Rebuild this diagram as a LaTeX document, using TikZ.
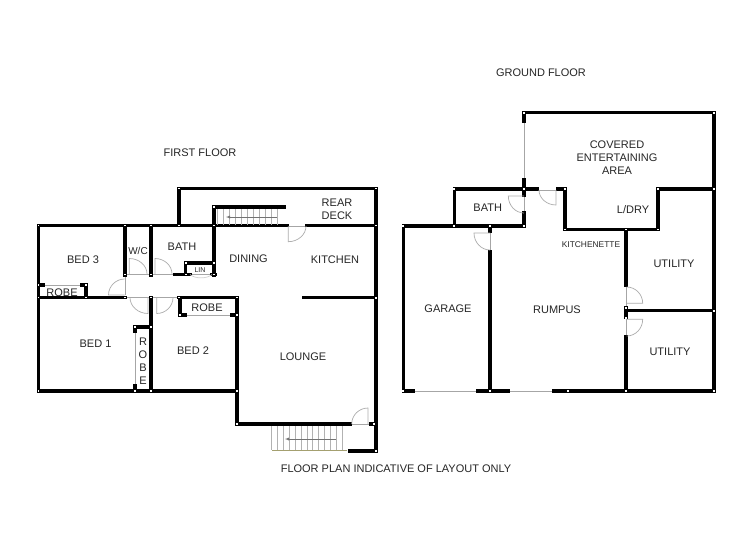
\documentclass[tikz,border=0pt]{standalone}
\usepackage{fontspec}
\setmainfont{Liberation Sans}
\usetikzlibrary{calc}
\tikzset{
    wall/.style={black, line width=3.4pt, line join=miter, line cap=rect},
    glass/.style={black!35, line width=.9pt},
    swing/.style={black!32, line width=.7pt},
    tread/.style={black!30, line width=.5pt},
    joint/.style={fill=white, draw=none},
    label/.style={text=black!85, font=\fontsize{11}{13}\selectfont, align=center, inner sep=0pt, yshift=-.7pt},
    smalllabel/.style={text=black!85, font=\fontsize{8.4}{10}\selectfont, inner sep=0pt, yshift=-.3pt},
}
\newcommand{\doorswing}[3]{
    \draw[swing] (#1) -- (#2) .. controls ($(#2)+.55*(#3)-.55*(#1)$) and ($(#3)+.55*(#2)-.55*(#1)$) .. (#3);
}
\begin{document}
\begin{tikzpicture}[x=1pt, y=-1pt]
    \useasboundingbox (0,0) rectangle (750,536);
    \fill[white] (0,0) rectangle (750,536);

    % first floor
    \draw[glass] (43,285) -- (82,285);
    \draw[glass] (186,315) -- (232,315);
    \draw[glass] (135,332) -- (135,385);
    \draw[glass] (125,274) -- (125,295);
    \draw[glass] (125,274) -- (151,274) (151,274) -- (174,274) (190,274) -- (212,274);
    \draw[glass] (125,297.5) -- (178,297.5);
    \draw[glass] (287,226) -- (307,226);
    \draw[glass] (350,424) -- (371,424);

    \draw[wall] (38.5,391) -- (38.5,225.5) -- (287,225.5);
    \draw[wall] (306.7,225.5) -- (376,225.5);
    \draw[wall] (179,225.5) -- (179,188.5) -- (376,188.5) -- (376,451) -- (350,451);
    \draw[wall] (284,207) -- (214,207) -- (214,275);
    \draw[wall] (304,297.7) -- (376,297.7);
    \draw[wall] (237,297.5) -- (237,424) -- (350,424);
    \draw[wall] (371,424) -- (376,424);
    \draw[wall] (38.5,391) -- (237,391);
    \draw[wall] (38.5,297.5) -- (125,297.5);
    \draw[wall] (125,225.5) -- (125,275);
    \draw[wall] (151,225.5) -- (151,275);
    \draw[wall] (151,297.5) -- (151,391);
    \draw[wall] (179,297.5) -- (237,297.5);
    \draw[wall] (180,297.5) -- (180,315) -- (185,315);
    \draw[wall] (232,315) -- (237,315);
    \draw[wall] (135,331) -- (135,327) -- (151,327);
    \draw[wall] (135,386) -- (135,391);
    \draw[wall] (38.5,285) -- (43,285);
    \draw[wall] (82,285) -- (86,285) -- (86,297.5);
    \draw[wall] (175,274.5) -- (190,274.5);
    \draw[wall] (185.7,274.5) -- (185.7,263) -- (214,263);
    \draw[wall] (212,274.5) -- (215,274.5);

    \doorswing{124.7,295}{108.5,295}{124.7,279}
    \doorswing{129.3,274}{129.3,258.5}{147,274}
    \doorswing{155,274}{155,258.5}{172,274}
    \doorswing{148,297.5}{148,313.5}{130,297.5}
    \doorswing{156.7,297.5}{156.7,313.5}{173,297.5}
    \doorswing{288.3,226}{288.3,241.7}{306,226}
    \doorswing{368,424}{368,408}{351.7,424}
    \draw[swing, black!18] (190,274.5) .. controls (195,279) and (207,279) .. (212,274.5);

    % stairs
    \foreach \tx in {217,223,...,278} {
        \draw[tread] (\tx,209) -- (\tx,225);
    }
    \draw[black!55, thin, -latex] (277,217) -- (226,217);
    \foreach \tx in {271.7,277.55,...,342} {
        \draw[tread] (\tx,426) -- (\tx,450);
    }
    \draw[black!55, thin, -latex] (336,439) -- (285,439);
    \draw[black!30!yellow!45!gray, line width=1.6pt] (272,450.5) -- (347,450.5);

    % ground floor
    \draw[glass] (524,121) -- (524,181);
    \draw[glass] (524,195) -- (524,214);
    \draw[glass] (538,190) -- (558,190);
    \draw[glass] (490,232) -- (490,252);
    \draw[glass] (413,391) -- (478,391);
    \draw[glass] (508,391) -- (554,391);
    \draw[glass] (626,285) -- (626,308);
    \draw[glass] (626,318) -- (626,337);

    \draw[wall] (403.3,391) -- (403.3,226) -- (524,226) -- (524,213);
    \draw[wall] (524,195) -- (524,180);
    \draw[wall] (454.3,226) -- (454.3,189) -- (537,189);
    \draw[wall] (558,189) -- (565,189) -- (565,229.5) -- (658,229.5) -- (658,189) -- (714,189);
    \draw[wall] (524,121) -- (524,112.7) -- (714,112.7) -- (714,391) -- (554,391);
    \draw[wall] (508,391) -- (478,391);
    \draw[wall] (413,391) -- (403.3,391);
    \draw[wall] (490,226) -- (490,231);
    \draw[wall] (490,252) -- (490,391);
    \draw[wall] (626,229.5) -- (626,285);
    \draw[wall] (626,308) -- (626,317);
    \draw[wall] (626,337) -- (626,391);
    \draw[wall] (626,310.7) -- (714,310.7);

    \doorswing{490,233}{474,233}{490,250}
    \doorswing{524,196}{508.3,196}{524,213}
    \doorswing{556,190}{556,205}{539,190}
    \doorswing{626.7,303.3}{642.7,303.3}{626.7,287}
    \doorswing{626.7,319.3}{642.7,319.3}{626.7,336}

    \foreach \jx/\jy in {38.5/225.5, 125/225.5, 151/225.5, 179/225.5, 214/225.5, 179/188.5, 376/188.5,
        376/225.5, 376/297.7, 214/207, 125/274.5, 151/274.5, 185.7/274.5, 185.7/263, 214/263, 214/274.5,
        38.5/285, 38.5/297.5, 86/297.5, 125/297.5, 151/297.5, 179/297.5, 237/297.5, 86/285, 180/315,
        237/315, 135/327, 151/327, 38.5/391, 135/391, 151/391, 237/391, 237/424, 374/424, 376/451,
        403.3/226, 454.3/226, 490/226, 524/226, 454.3/189, 524/189, 565/189, 565/229.5, 626/229.5,
        658/229.5, 658/189, 714/189, 714/112.7, 524/112.7, 714/310.7, 714/391, 626/391, 490/391,
        403.3/391, 568/391, 626/308, 626/318} {
        \fill[joint] (\jx-.9,\jy-.9) rectangle (\jx+.9,\jy+.9);
    }

    \node[label] (firsttitle) at (200,152) {FIRST FLOOR};
    \node[label] (groundtitle) at (541,72) {GROUND FLOOR};
    \node[label] (disclaimer) at (396,468) {FLOOR PLAN INDICATIVE OF LAYOUT ONLY};

    \node[label] (bedthree) at (83,259) {BED 3};
    \node[label] (wc) at (138,250) {\fontsize{10}{12}\selectfont W/C};
    \node[label] (bathup) at (182,246) {BATH};
    \node[label] (robethree) at (62,292) {ROBE};
    \node[label] (robetwo) at (207,307) {ROBE};
    \node[label] (bedone) at (95.5,343) {BED 1};
    \node[label] (bedtwo) at (193,350) {BED 2};
    \node[label] (robeR) at (143,341.5) {R};
    \node[label] (robeO) at (143,354) {O};
    \node[label] (robeB) at (143,367) {B};
    \node[label] (robeE) at (143,380.5) {E};
    \node[label] (lin) at (200,269) {\fontsize{7}{8}\selectfont LIN};
    \node[label] (dining) at (248.5,258) {DINING};
    \node[label] (kitchen) at (335,259) {KITCHEN};
    \node[label] (deck) at (337,209) {REAR\\DECK};
    \node[label] (lounge) at (303,356) {LOUNGE};

    \node[label] (bathdown) at (487.7,207) {BATH};
    \node[label] (garage) at (448,308) {GARAGE};
    \node[label] (rumpus) at (557,309) {RUMPUS};
    \node[smalllabel] (kitchenette) at (591,244.5) {KITCHENETTE};
    \node[label] (utilitytop) at (674,263) {UTILITY};
    \node[label] (utilitylow) at (670,351) {UTILITY};
    \node[label] (ldry) at (633,209) {L/DRY};
    \node[label] (covered) at (617,157) {COVERED\\ENTERTAINING\\AREA};
\end{tikzpicture}
\end{document}
